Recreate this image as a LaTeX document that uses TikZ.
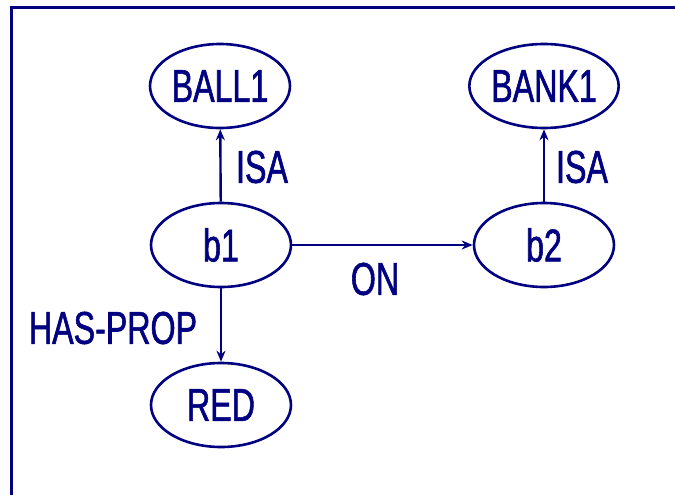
\documentclass[tikz,border=0pt]{standalone}
\usepackage{fontspec}
\setmainfont{Liberation Sans}[FakeStretch=0.7, FakeBold=1.2]
\usetikzlibrary{shapes.geometric,arrows.meta}
\definecolor{netblue}{RGB}{0,0,128}
\tikzset{
  concept/.style={ellipse, draw=netblue, line width=2.6pt, minimum width=140pt,
    minimum height=84pt, inner sep=0pt, text=netblue, font=\fontsize{46}{46}\selectfont},
  relname/.style={text=netblue, inner sep=0pt, font=\fontsize{46}{46}\selectfont},
  rel/.style={draw=netblue, line width=2.4pt, -{Stealth[length=11pt,width=9pt]}}
}
\begin{document}
\begin{tikzpicture}[x=1pt, y=-1pt]
\useasboundingbox (0,0) rectangle (675,495);

\draw [netblue, line width=3pt] (11.5,500) -- (11.5,7.5) -- (680,7.5);

\node [concept] (ball) at (220,86) {BALL1};
\node [concept] (bank) at (544,86) {BANK1};
\node [concept] (bone) at (221,245) {b1};
\node [concept] (btwo) at (544,245) {b2};
\node [concept] (red) at (221,405) {RED};

\draw [rel] (bone) -- (ball);
\draw [rel] (btwo) -- (bank);
\draw [rel] (bone) -- (btwo);
\draw [rel] (bone) -- (red);

\node [relname] (isaball) at (262,167) {ISA};
\node [relname] (isabank) at (582,167) {ISA};
\node [relname] (on) at (375,279) {ON};
\node [relname] (hasprop) at (113,328) {HAS-PROP};

\end{tikzpicture}
\end{document}
